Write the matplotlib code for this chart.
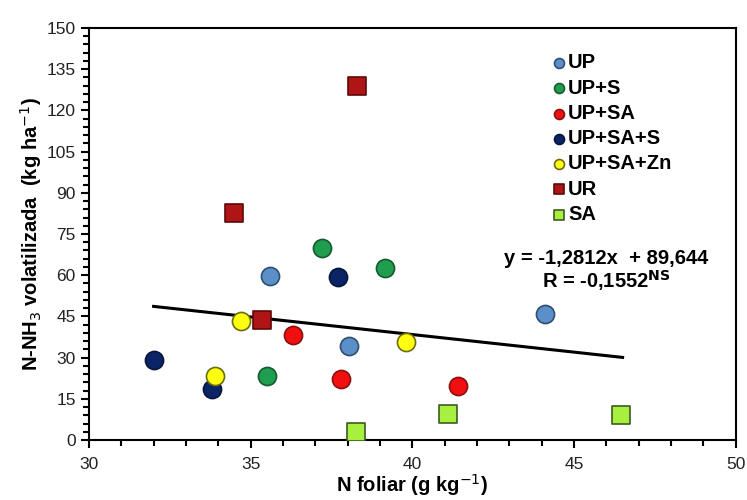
import matplotlib
matplotlib.use("Agg")
import matplotlib.pyplot as plt
from matplotlib.ticker import MultipleLocator
import numpy as np

plt.rcParams['font.family'] = ['Liberation Sans', 'DejaVu Sans']

series = ["UP", "UP+S", "UP+SA", "UP+SA+S", "UP+SA+Zn", "UR", "SA"]
x_vals = {
    "UP": [35.6, 38.05, 44.1],
    "UP+S": [37.2, 39.15, 35.5],
    "UP+SA": [36.3, 37.8, 41.4],
    "UP+SA+S": [32.0, 33.8, 37.7],
    "UP+SA+Zn": [34.7, 33.9, 39.8],
    "UR": [34.5, 38.3, 35.35],
    "SA": [38.25, 41.1, 46.45],
}
y_vals = {
    "UP": [59.7, 34.2, 45.9],
    "UP+S": [69.9, 62.6, 23.3],
    "UP+SA": [38.2, 22.2, 19.7],
    "UP+SA+S": [29.1, 18.6, 59.3],
    "UP+SA+Zn": [43.3, 23.3, 35.7],
    "UR": [82.6, 128.9, 43.7],
    "SA": [2.9, 9.5, 9.1],
}
slope, intercept = -1.2812, 89.644
trend_x = [32.0, 46.5]

styles = {
    "UP": dict(marker="o", fc="#5B8FC9", ec="#2F4F70"),
    "UP+S": dict(marker="o", fc="#1F9E4F", ec="#145A2E"),
    "UP+SA": dict(marker="o", fc="#F01010", ec="#8A1010"),
    "UP+SA+S": dict(marker="o", fc="#0B2466", ec="#07163D"),
    "UP+SA+Zn": dict(marker="o", fc="#FFFF10", ec="#6B6B10"),
    "UR": dict(marker="s", fc="#B01515", ec="#5A0A0A"),
    "SA": dict(marker="s", fc="#A8F040", ec="#3E5A20"),
}

fig = plt.figure(figsize=(7.47, 5.0), dpi=100)
ax = fig.add_axes([0.119, 0.12, 0.866, 0.824])

tx = np.array(trend_x)
ax.plot(tx, slope * tx + intercept, color="black", lw=2.2, zorder=2)

for s in series:
    st = styles[s]
    size = 170 if st["marker"] == "o" else 150
    ax.scatter(x_vals[s], y_vals[s], s=size, marker=st["marker"], c=st["fc"],
               edgecolors=st["ec"], linewidths=1.2, zorder=3, label=s)

ax.set_xlim(30, 50)
ax.set_ylim(0, 150)
ax.xaxis.set_major_locator(MultipleLocator(5))
ax.xaxis.set_minor_locator(MultipleLocator(1))
ax.yaxis.set_major_locator(MultipleLocator(15))
ax.yaxis.set_minor_locator(MultipleLocator(3))
ax.tick_params(axis="both", which="major", direction="out", length=6, width=1.5,
               labelsize=12.5, labelcolor="#222222")
ax.tick_params(axis="x", which="major", pad=6)
ax.tick_params(axis="both", which="minor", direction="out", length=4, width=1.5)
for sp in ax.spines.values():
    sp.set_linewidth(1.5)

ax.set_xlabel("N foliar (g kg$^{-1}$)", fontsize=14.5, fontweight="bold", labelpad=0)
ax.set_ylabel("N-NH$_3$ volatilizada  (kg ha$^{-1}$)", fontsize=14.5,
              fontweight="bold", labelpad=2)

leg = ax.legend(loc="upper left", bbox_to_anchor=(0.70, 0.958), frameon=False,
                prop=dict(weight="bold", size=14.5), handletextpad=0.0,
                markerscale=0.55, labelspacing=0.31, handlelength=0.9,
                borderaxespad=0)

ax.text(0.80, 0.44, "y = -1,2812x  + 89,644", transform=ax.transAxes,
        ha="center", va="center", fontsize=14.5, fontweight="bold")
ax.text(0.80, 0.386, "R = -0,1552$^{\\mathbf{NS}}$", transform=ax.transAxes,
        ha="center", va="center", fontsize=14.5, fontweight="bold")

fig.savefig("out.png", dpi=100)
